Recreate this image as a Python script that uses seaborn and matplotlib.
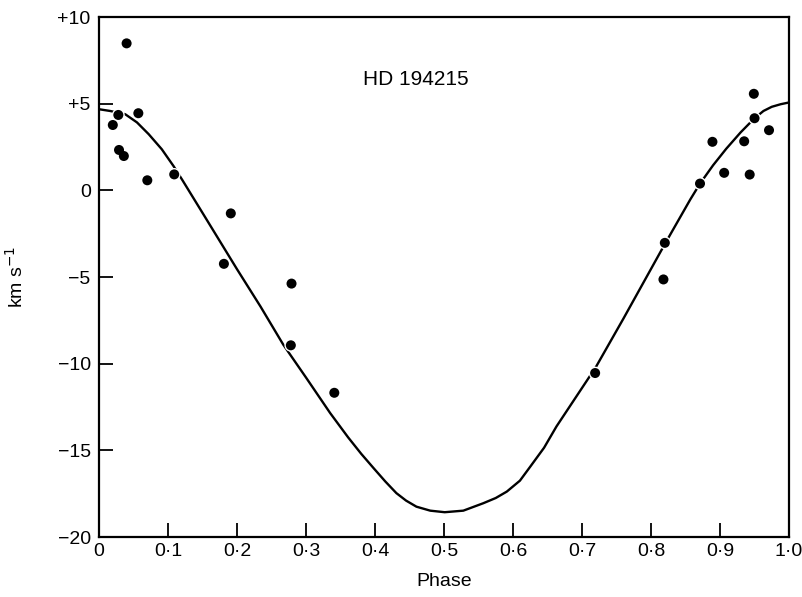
import matplotlib
matplotlib.use("Agg")
import matplotlib.pyplot as plt
import seaborn as sns
import pandas as pd

# Observed radial velocities (phase, km/s)
obs_phase = [0.020, 0.028, 0.029, 0.036, 0.040, 0.057, 0.070, 0.109, 0.181, 0.191,
             0.278, 0.279, 0.341, 0.719, 0.818, 0.820, 0.871, 0.889, 0.906, 0.935,
             0.943, 0.949, 0.950, 0.971]
obs_vel = [3.77, 4.35, 2.33, 1.98, 8.48, 4.45, 0.58, 0.92, -4.24, -1.33,
           -8.94, -5.38, -11.68, -10.54, -5.14, -3.03, 0.39, 2.80, 1.01, 2.83,
           0.91, 5.57, 4.16, 3.47]

# Velocity curve
curve_phase = [0.0, 0.016, 0.038, 0.055, 0.072, 0.091, 0.108, 0.121, 0.15, 0.2,
               0.234, 0.267, 0.3, 0.335, 0.361, 0.38, 0.398, 0.415, 0.431, 0.445,
               0.46, 0.48, 0.501, 0.528, 0.557, 0.575, 0.591, 0.61, 0.625, 0.645,
               0.663, 0.69, 0.72, 0.76, 0.82, 0.857, 0.871, 0.89, 0.909, 0.93,
               0.95, 0.963, 0.975, 0.988, 1.0]
curve_vel = [4.68, 4.58, 4.39, 3.92, 3.24, 2.37, 1.40, 0.58, -1.3, -4.55,
             -6.7, -8.9, -10.8, -12.85, -14.25, -15.2, -16.03, -16.8, -17.47, -17.9,
             -18.25, -18.48, -18.57, -18.48, -18.05, -17.75, -17.38, -16.75, -15.94, -14.85,
             -13.62, -12.0, -10.2, -7.4, -3.1, -0.52, 0.39, 1.45, 2.4, 3.35,
             4.16, 4.58, 4.82, 4.97, 5.07]

x_ticks = [0.0, 0.1, 0.2, 0.3, 0.4, 0.5, 0.6, 0.7, 0.8, 0.9, 1.0]
x_labels = ["0", "0\u00b71", "0\u00b72", "0\u00b73", "0\u00b74", "0\u00b75",
            "0\u00b76", "0\u00b77", "0\u00b78", "0\u00b79", "1\u00b70"]
y_ticks = [10, 5, 0, -5, -10, -15, -20]
y_labels = ["+10", "+5", "0", "\u22125", "\u221210", "\u221215", "\u221220"]
star_name = "HD 194215"

sns.set_theme(style="white")
plt.rcParams["font.family"] = ["Liberation Sans", "DejaVu Sans"]
plt.rcParams["text.color"] = "black"
plt.rcParams["axes.labelcolor"] = "black"

fig = plt.figure(figsize=(8.03, 5.97), dpi=100)
ax = fig.add_axes([0.1233, 0.1005, 0.8593, 0.871])

curve_df = pd.DataFrame({"phase": curve_phase, "vel": curve_vel})
obs_df = pd.DataFrame({"phase": obs_phase, "vel": obs_vel})

sns.lineplot(data=curve_df, x="phase", y="vel", sort=False, estimator=None,
             color="black", linewidth=1.7, ax=ax, zorder=2)
# white halo to break the curve around the points
sns.scatterplot(data=obs_df, x="phase", y="vel", color="white", s=85,
                edgecolor="none", linewidth=0, ax=ax, zorder=3)
sns.scatterplot(data=obs_df, x="phase", y="vel", color="black", s=52,
                edgecolor="none", linewidth=0, ax=ax, zorder=4)

ax.set_xlim(0, 1.0)
ax.set_ylim(-20, 10)
ax.set_xticks(x_ticks)
ax.set_xticklabels(x_labels)
ax.set_yticks(y_ticks)
ax.set_yticklabels(y_labels)
ax.tick_params(axis="both", direction="in", length=10, width=1.3,
               labelsize=14, colors="black", labelcolor="black", top=False,
               right=False, bottom=True, left=True)
ax.tick_params(axis="x", pad=4)
ax.tick_params(axis="y", pad=6)
for sp in ax.spines.values():
    sp.set_visible(True)
    sp.set_color("black")
    sp.set_linewidth(1.6)

ax.set_xlabel("Phase", fontsize=14, labelpad=10, color="black")
ax.set_ylabel("km s$^{-1}$", fontsize=14, labelpad=22, color="black")
ax.text(0.459, 6.42, star_name, fontsize=15, ha="center", va="center", color="black")

fig.savefig("out.png", dpi=100, facecolor="white")
